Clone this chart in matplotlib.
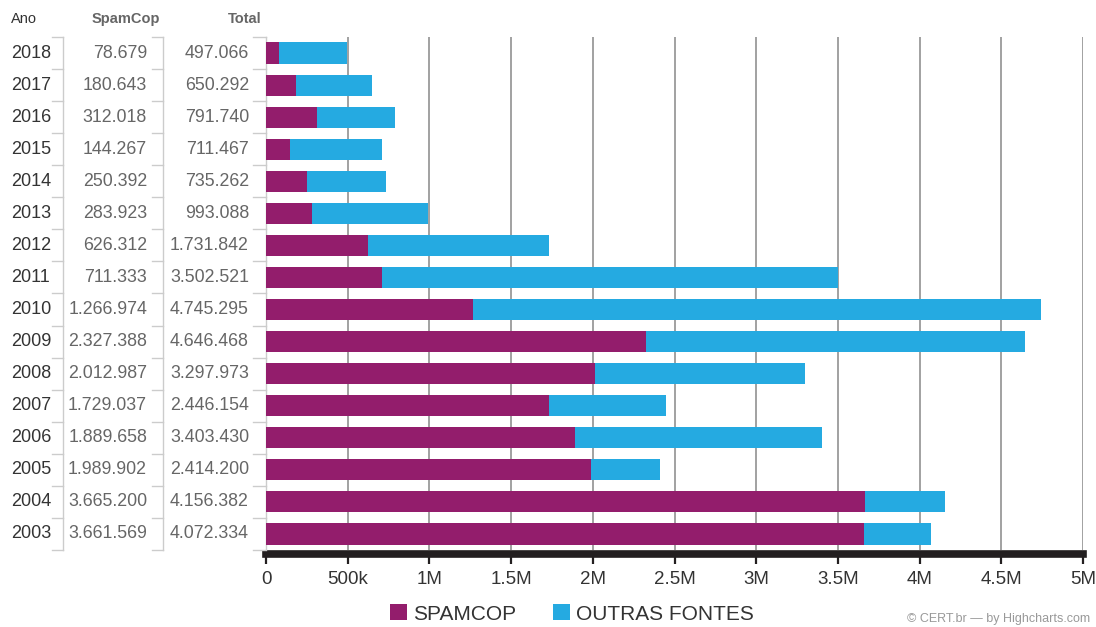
import matplotlib
matplotlib.use("Agg")
import matplotlib.pyplot as plt
from matplotlib.patches import Patch
from matplotlib.lines import Line2D
from matplotlib.transforms import blended_transform_factory

plt.rcParams['font.family'] = ['Liberation Sans', 'DejaVu Sans']

years = [2018, 2017, 2016, 2015, 2014, 2013, 2012, 2011, 2010, 2009,
         2008, 2007, 2006, 2005, 2004, 2003]
spamcop = [78679, 180643, 312018, 144267, 250392, 283923, 626312, 711333,
           1266974, 2327388, 2012987, 1729037, 1889658, 1989902, 3665200, 3661569]
total = [497066, 650292, 791740, 711467, 735262, 993088, 1731842, 3502521,
         4745295, 4646468, 3297973, 2446154, 3403430, 2414200, 4156382, 4072334]
outras = [t - s for t, s in zip(total, spamcop)]
x_ticks = [0, 500000, 1000000, 1500000, 2000000, 2500000, 3000000, 3500000,
           4000000, 4500000, 5000000]
x_tick_labels = ["0", "500k", "1M", "1.5M", "2M", "2.5M", "3M", "3.5M",
                 "4M", "4.5M", "5M"]
headers = ["Ano", "SpamCop", "Total"]
legend_labels = ["SPAMCOP", "OUTRAS FONTES"]
c_spam = "#931d6c"
c_out = "#25aae1"

W, H = 1096, 627
fig = plt.figure(figsize=(W / 100, H / 100), dpi=100)
ax = fig.add_axes([266 / W, (H - 550) / H, (1083 - 266) / W, (550 - 37) / H])

for s in ['top', 'right']:
    ax.spines[s].set_visible(False)
ax.spines['left'].set_color("#cccccc")
ax.spines['left'].set_linewidth(1.0)
ax.spines['bottom'].set_position(('outward', 3))
ax.spines['bottom'].set_color("#231f20")
ax.spines['bottom'].set_linewidth(5.5)
ax.spines['bottom'].set_capstyle('projecting')

pos = list(range(len(years)))
ax.barh(pos, spamcop, height=0.66, color=c_spam, zorder=3)
ax.barh(pos, outras, left=spamcop, height=0.66, color=c_out, zorder=3)

ax.set_xlim(0, 5000000)
ax.set_ylim(len(years) - 0.5, -0.5)
ax.set_xticks(x_ticks)
ax.set_xticklabels(x_tick_labels)
ax.set_yticks([])
ax.grid(axis='x', color="#9a9a9a", linewidth=1.3, zorder=0)
ax.tick_params(axis='x', direction='out', length=7, width=1.6, color="#231f20",
               pad=5, labelsize=13.5, labelcolor="#333333")

tr = blended_transform_factory(fig.transFigure, ax.transData)

def fx(px):
    return px / W

def fmt(v):
    return f"{v:,}".replace(",", ".")

for i, (yr, s, t) in enumerate(zip(years, spamcop, total)):
    ax.text(fx(11), i, str(yr), transform=tr, ha='left', va='center',
            fontsize=13, color="#333333")
    ax.text(fx(147), i, fmt(s), transform=tr, ha='right', va='center',
            fontsize=12.8, color="#666666")
    ax.text(fx(249), i, fmt(t), transform=tr, ha='right', va='center',
            fontsize=12.8, color="#666666")

# grouped-category brackets
for xv in [63, 163]:
    fig.add_artist(Line2D([fx(xv), fx(xv)], [-0.5, len(years) - 0.5],
                          transform=tr, color="#cccccc", lw=1.0))
for k in range(len(years) + 1):
    yb = k - 0.5
    for x0, x1 in [(52, 63), (152, 163), (253, 266)]:
        fig.add_artist(Line2D([fx(x0), fx(x1)], [yb, yb], transform=tr,
                              color="#cccccc", lw=1.0))

# headers
fig.text(fx(11), (H - 19) / H, headers[0], ha='left', va='center',
         fontsize=10.5, color="#333333")
fig.text(fx(160), (H - 19) / H, headers[1], ha='right', va='center',
         fontsize=10.5, color="#666666", fontweight='bold')
fig.text(fx(261), (H - 19) / H, headers[2], ha='right', va='center',
         fontsize=10.5, color="#666666", fontweight='bold')

handles = [Patch(facecolor=c_spam, edgecolor='none'),
           Patch(facecolor=c_out, edgecolor='none')]
fig.legend(handles, legend_labels, ncol=2, loc='center',
           bbox_to_anchor=(572 / W, (H - 614) / H), frameon=False,
           fontsize=15, handlelength=0.8, handleheight=0.8,
           handletextpad=0.3, columnspacing=1.8, labelcolor="#333333")

fig.text(fx(1090), (H - 625) / H, "\u00a9 CERT.br \u2014 by Highcharts.com",
         ha='right', va='bottom', fontsize=9, color="#999999")

fig.savefig("out.png", dpi=100)
